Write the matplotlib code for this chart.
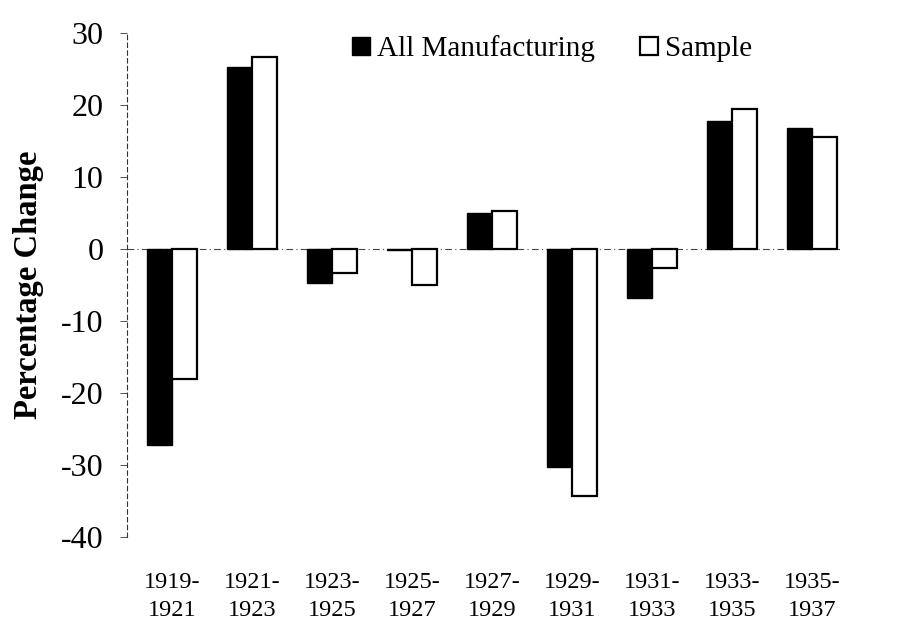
"""
Percentage change in output, all manufacturing vs. sample, biennial census years.
"""

import numpy as np
import matplotlib
matplotlib.use("Agg")
import matplotlib.pyplot as plt

# ── Data ────────────────────────────────────────────────────────────────────────
PERIODS     = ["1919-\n1921", "1921-\n1923", "1923-\n1925", "1925-\n1927", "1927-\n1929",
               "1929-\n1931", "1931-\n1933", "1933-\n1935", "1935-\n1937"]
ALL_MANUF   = [-27.3, 25.3, -4.8, -0.1, 5.0, -30.3, -6.8, 17.8, 16.8]
SAMPLE      = [-18.1, 26.7, -3.4, -5.0, 5.3, -34.4, -2.7, 19.5, 15.6]
SERIES      = ["All Manufacturing", "Sample"]
Y_TICKS     = [-40, -30, -20, -10, 0, 10, 20, 30]
# ────────────────────────────────────────────────────────────────────────────────

plt.rcParams["font.family"] = ["Liberation Serif", "DejaVu Serif"]

BAR_W = 0.31


def main():
    x = np.arange(len(PERIODS))

    fig = plt.figure(figsize=(9.08, 6.22), dpi=100)
    ax = fig.add_axes([0.14, 0.137, 0.785, 0.81])

    ax.axhline(0, color="#444444", linewidth=0.8, linestyle=(0, (6, 3, 1, 3)), zorder=1)

    ax.bar(x - BAR_W / 2, ALL_MANUF, BAR_W, color="black", edgecolor="black",
           linewidth=1.0, label=SERIES[0], zorder=2)
    ax.bar(x + BAR_W / 2, SAMPLE, BAR_W, color="white", edgecolor="black",
           linewidth=1.6, label=SERIES[1], zorder=2)

    ax.set_xlim(-0.56, len(PERIODS) - 1 + 0.35)
    ax.set_ylim(Y_TICKS[0], Y_TICKS[-1])
    ax.set_yticks(Y_TICKS)
    ax.set_yticklabels([str(v) for v in Y_TICKS], fontsize=23)
    ax.set_xticks(x)
    ax.set_xticklabels(PERIODS, fontsize=17.5, linespacing=1.45)

    ax.tick_params(axis="x", length=0, pad=25)
    ax.tick_params(axis="y", length=5, width=0.6, pad=12, color="#333333")

    for side in ("top", "right", "bottom"):
        ax.spines[side].set_visible(False)
    ax.spines["left"].set_linestyle((0, (4, 3)))
    ax.spines["left"].set_linewidth(0.8)
    ax.spines["left"].set_color("#333333")

    ax.set_ylabel("Percentage Change", fontsize=23.5, fontweight="bold", labelpad=12)

    fig.legend(loc="upper left", bbox_to_anchor=(0.388, 0.943), ncol=2, frameon=False,
               fontsize=21, handlelength=0.6, handleheight=0.6, handletextpad=0.25,
               columnspacing=1.55, borderpad=0, borderaxespad=0)

    fig.savefig("out.png", dpi=100, facecolor="white")


if __name__ == "__main__":
    main()
